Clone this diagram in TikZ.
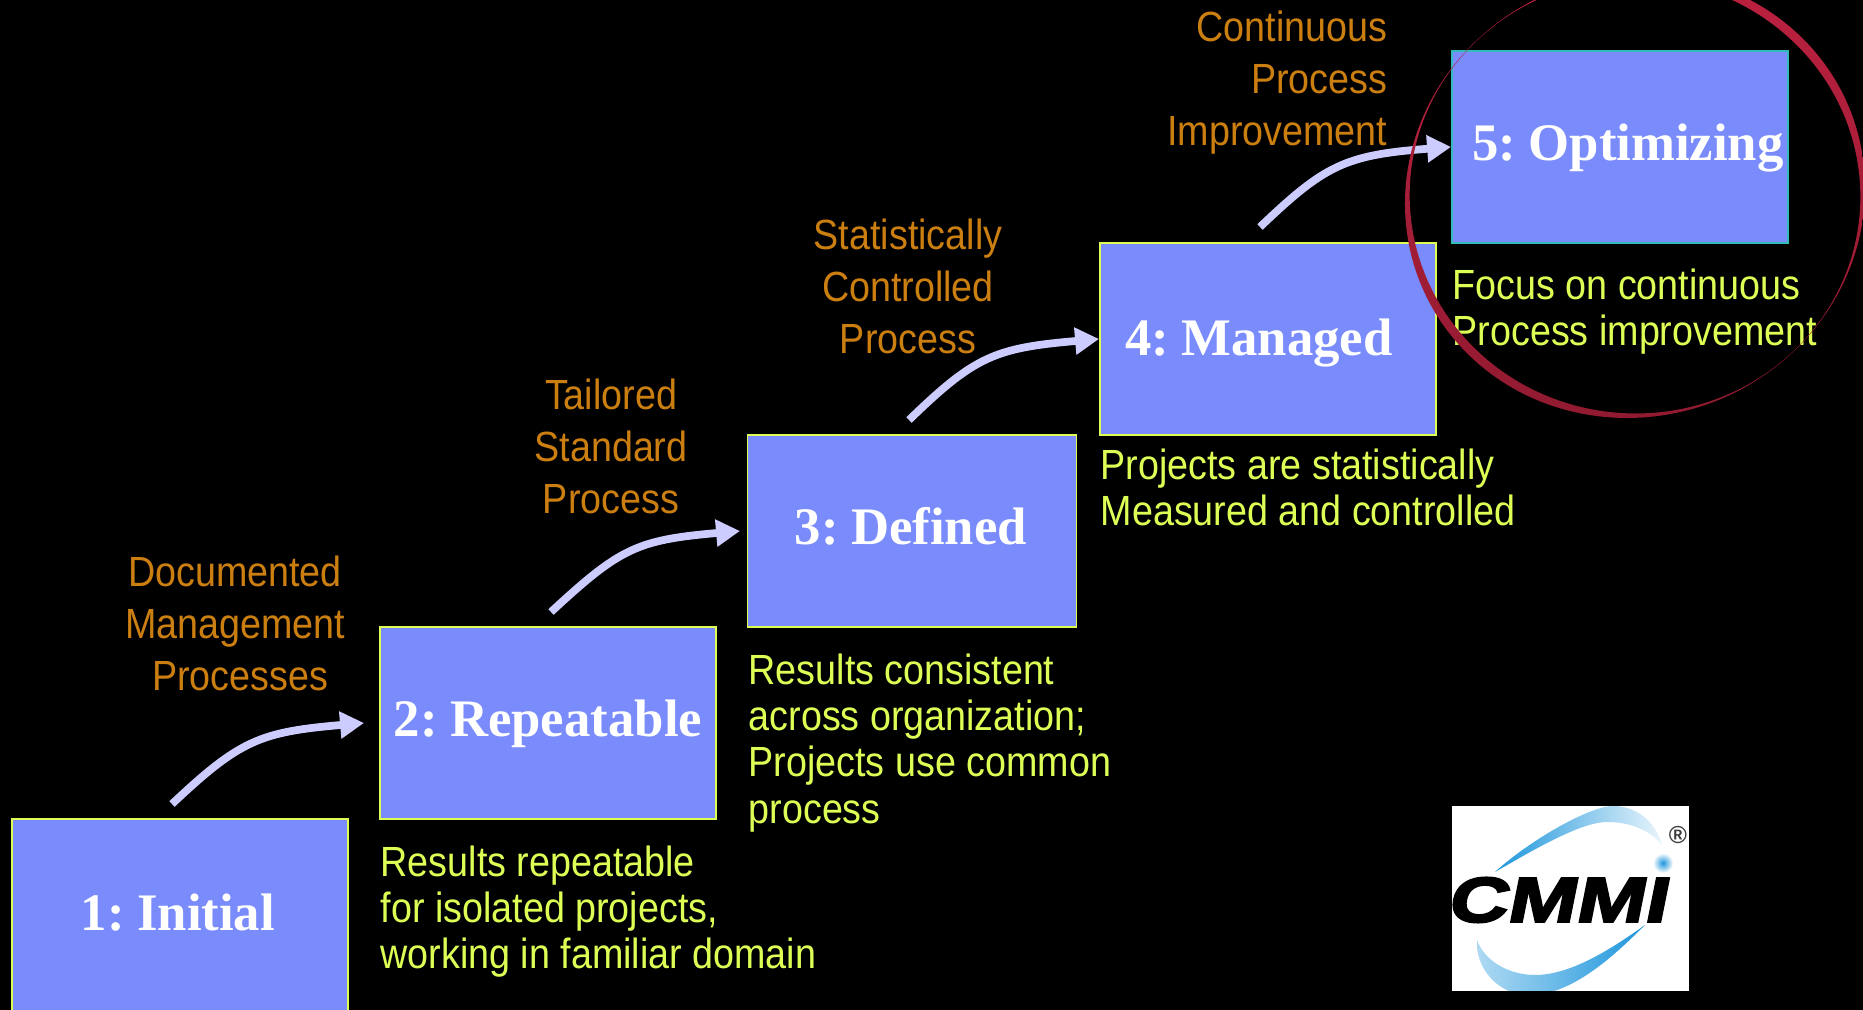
\documentclass[tikz,border=0pt]{standalone}
\usepackage{fontspec}
\usepackage{xcolor}
\usetikzlibrary{calc,arrows.meta}
\setmainfont{Liberation Sans}
\newfontfamily\narrowfont[FakeStretch=0.893]{Liberation Sans}
\newfontfamily\stagefont[WordSpace=0.6]{Liberation Serif}[UprightFont={* Bold}]
\newfontfamily\logofont[FakeStretch=1.3,FakeSlant=0.2,FakeBold=3.5]{Liberation Sans}[UprightFont={* Bold}]
\definecolor{stage}{HTML}{7A8BFC}
\definecolor{lime}{HTML}{DDFF55}
\definecolor{teal5}{HTML}{33BBBB}
\definecolor{amber}{HTML}{CC7F11}
\definecolor{flowc}{HTML}{CCCCFF}
\definecolor{ring}{HTML}{BE2140}
\definecolor{ringdark}{HTML}{8F1A30}
\definecolor{swoosh}{HTML}{1E96DC}
\tikzset{
  stagebox/.style={draw=lime, fill=stage, line width=0.5pt, minimum width=95.6pt, minimum height=54.6pt, inner sep=0pt},
  stagelab/.style={text=white, font=\stagefont\fontsize{15}{17}\selectfont},
  result/.style={text=lime, font=\narrowfont\fontsize{12}{13.1}\selectfont, align=left, inner sep=0pt, anchor=west},
  maturity/.style={text=amber, font=\narrowfont\fontsize{12}{14.8}\selectfont, align=center, inner sep=0pt},
  flow/.style={draw=flowc, line width=2.2pt, -{Triangle[length=6.8pt,width=7.4pt]}},
}
\begin{document}
\begin{tikzpicture}[x=0.01cm,y=-0.01cm]
\clip (0,0) rectangle (1863,1010);
\fill[black] (0,0) rectangle (1863,1010);
% stages
\node[stagebox] (box1) at (180,915) {};
\node[stagebox] (box2) at (548,723) {};
\node[stagebox, minimum width=93.6pt] (box3) at (912,531) {};
\node[stagebox] (box4) at (1268,339) {};
\node[stagebox, draw=teal5] (box5) at (1620,147) {};
\node[stagelab] (lab1) at (178,913) {1: Initial};
\node[stagelab] (lab2) at (548,724) {2: Repeatable};
\node[stagelab] (lab3) at (911,526) {3: Defined};
\node[stagelab] (lab4) at (1259,343) {4: Managed};
\node[stagelab] (lab5) at (1628,148) {5: Optimizing};
% arrows
\coordinate (from1) at (172,804);
\coordinate (from2) at (551,612);
\coordinate (from3) at (909,420);
\coordinate (from4) at (1260,227);
\coordinate (to2) at (364,723);
\coordinate (to3) at (740,531);
\draw[flow] (from1) .. controls (240,740) and (260,732) .. (to2);
\draw[flow] (from2) .. controls (620,548) and (637,540) .. (to3);
\draw[flow] (from3) .. controls (975,356) and (995,348) .. (box4.west);
\draw[flow] (from4) .. controls (1325,165) and (1345,155) .. (box5.west);
% texts
\node[maturity] (proc2) at (235,623) {Documented\\Management\\\ Processes};
\node[maturity] (proc3) at (611,446) {Tailored\\Standard\\Process};
\node[maturity] (proc4) at (908,286) {Statistically\\Controlled\\Process};
\node[maturity, align=right, anchor=east] (proc5) at (1388,83) {Continuous\\Process\\Improvement};
\node[result] (res2) at (380,912) {Results repeatable\\for isolated projects,\\working in familiar domain};
\node[result] (res3) at (748,743) {Results consistent\\across organization;\\Projects use common\\process};
\node[result] (res4) at (1100,487) {Projects are statistically\\Measured and controlled};
\node[result] (res5) at (1452,312) {Focus on continuous\\Process improvement};
% ring
\begin{scope}[shift={(1635,196)}, yscale=0.965]
\shade[even odd rule, top color=ring, bottom color=ringdark]
  (0,0) ellipse [x radius=234, y radius=226, rotate=45]
  (0,0) ellipse [x radius=225, y radius=225.7, rotate=45];
\end{scope}
% logo
\fill[white] (1452,806) rectangle (1689,991);
\begin{scope}
\clip (1452,806) rectangle (1689,991);
\shade[left color=swoosh, middle color=swoosh!75, right color=swoosh!10] (1495,872) .. controls (1530,840) and (1590,806) .. (1613,806)
  .. controls (1635,806) and (1655,820) .. (1662,845) .. controls (1650,830) and (1630,822) .. (1607,822)
  .. controls (1580,822) and (1530,852) .. cycle;
\shade[left color=swoosh!35, middle color=swoosh!85, right color=swoosh] (1645,925) .. controls (1610,960) and (1570,995) .. (1530,995)
  .. controls (1495,995) and (1475,965) .. (1477,940) .. controls (1485,962) and (1510,975) .. (1535,975)
  .. controls (1570,975) and (1610,950) .. cycle;
\end{scope}
\shade[inner color=swoosh, outer color=white] (1663,863) circle (10);
\node[text=black, font=\logofont\fontsize{18}{20}\selectfont, inner sep=0pt] (cmmi) at (1556,900) {CMMI};
\node[text=black!75, font=\bfseries\fontsize{7}{8}\selectfont, inner sep=0pt] (reg) at (1678,835) {®};
\end{tikzpicture}
\end{document}
